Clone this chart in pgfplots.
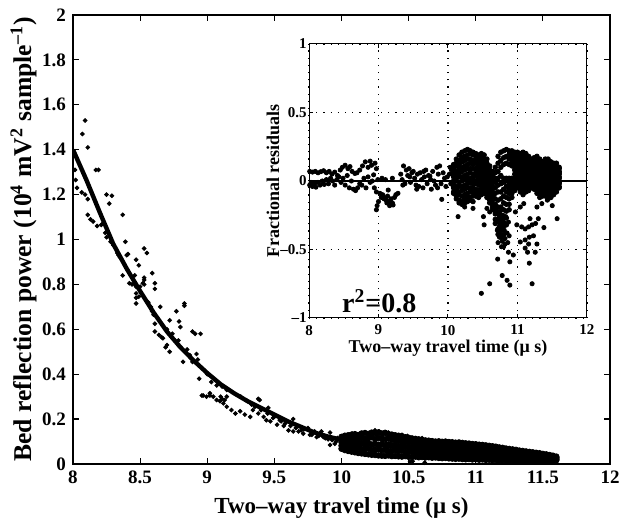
\documentclass[border=0pt]{standalone}
\usepackage{fontspec}
\setmainfont{Liberation Serif}
\usepackage{pgfplots}
\usepackage{pgfplotstable}
\pgfplotsset{compat=1.18}

% main-panel band 10-11.6 us: x then five samples across the band
\pgfplotstableread{
x a b c d e
10.000 0.068 0.082 0.097 0.110 0.121
10.025 0.062 0.079 0.094 0.112 0.126
10.050 0.058 0.076 0.099 0.108 0.128
10.075 0.055 0.073 0.091 0.114 0.131
10.100 0.052 0.071 0.095 0.116 0.133
10.125 0.049 0.074 0.090 0.113 0.129
10.150 0.047 0.068 0.093 0.118 0.136
10.175 0.045 0.066 0.088 0.111 0.138
10.200 0.043 0.069 0.092 0.115 0.134
10.225 0.041 0.064 0.087 0.119 0.140
10.250 0.040 0.062 0.090 0.112 0.137
10.275 0.038 0.065 0.086 0.116 0.141
10.300 0.037 0.061 0.089 0.113 0.136
10.325 0.036 0.063 0.084 0.110 0.139
10.350 0.038 0.060 0.087 0.114 0.133
10.375 0.035 0.058 0.083 0.108 0.131
10.400 0.036 0.061 0.085 0.106 0.128
10.425 0.034 0.057 0.080 0.104 0.126
10.450 0.033 0.059 0.082 0.101 0.124
10.475 0.035 0.055 0.078 0.099 0.119
10.500 0.032 0.054 0.076 0.098 0.117
10.525 0.031 0.056 0.074 0.096 0.114
10.550 0.033 0.052 0.077 0.093 0.112
10.575 0.030 0.053 0.072 0.091 0.110
10.600 0.031 0.050 0.070 0.090 0.108
10.625 0.029 0.051 0.068 0.088 0.105
10.650 0.030 0.048 0.071 0.086 0.104
10.675 0.028 0.049 0.066 0.084 0.102
10.700 0.029 0.047 0.064 0.083 0.100
10.725 0.027 0.046 0.066 0.085 0.101
10.750 0.026 0.044 0.063 0.082 0.099
10.775 0.027 0.045 0.061 0.080 0.100
10.800 0.025 0.043 0.060 0.079 0.098
10.825 0.024 0.041 0.062 0.078 0.097
10.850 0.023 0.042 0.058 0.076 0.095
10.875 0.024 0.040 0.057 0.077 0.096
10.900 0.022 0.039 0.056 0.074 0.094
10.925 0.021 0.038 0.055 0.073 0.092
10.950 0.022 0.037 0.054 0.071 0.091
10.975 0.020 0.036 0.052 0.070 0.089
11.000 0.021 0.035 0.051 0.069 0.088
11.025 0.019 0.034 0.050 0.067 0.086
11.050 0.020 0.033 0.049 0.066 0.085
11.075 0.018 0.032 0.047 0.064 0.083
11.100 0.019 0.031 0.046 0.062 0.081
11.125 0.017 0.030 0.045 0.060 0.079
11.150 0.018 0.030 0.043 0.058 0.077
11.175 0.016 0.029 0.042 0.056 0.074
11.200 0.017 0.028 0.041 0.054 0.072
11.225 0.016 0.027 0.040 0.052 0.069
11.250 0.015 0.027 0.038 0.050 0.067
11.275 0.016 0.026 0.037 0.049 0.065
11.300 0.015 0.025 0.036 0.047 0.063
11.325 0.014 0.025 0.035 0.046 0.060
11.350 0.015 0.024 0.034 0.044 0.058
11.375 0.014 0.023 0.033 0.043 0.056
11.400 0.015 0.023 0.032 0.041 0.054
11.425 0.014 0.022 0.031 0.040 0.052
11.450 0.015 0.022 0.030 0.038 0.050
11.475 0.014 0.021 0.029 0.037 0.048
11.500 0.015 0.021 0.028 0.035 0.045
11.525 0.016 0.021 0.027 0.034 0.043
11.550 0.015 0.020 0.026 0.032 0.040
11.575 0.016 0.021 0.026 0.031 0.037
11.600 0.017 0.021 0.025 0.029 0.033
}\band

% inset: dense residual cloud, x then 12 samples
\pgfplotstableread{
x r1 r2 r3 r4 r5 r6 r7 r8 r9 r10 r11 r12
10.08 -0.09 -0.08 -0.05 -0.04 -0.01 0.00 0.03 0.04 0.06 0.09 0.10 0.12
10.12 -0.13 -0.11 -0.08 -0.06 -0.04 0.00 0.02 0.05 0.07 0.11 0.13 0.16
10.16 -0.16 -0.14 -0.10 -0.08 -0.04 -0.01 0.03 0.06 0.09 0.12 0.15 0.19
10.20 -0.17 -0.15 -0.11 -0.07 -0.04 0.00 0.03 0.07 0.10 0.14 0.17 0.21
10.24 -0.16 -0.13 -0.10 -0.06 -0.03 0.01 0.04 0.08 0.11 0.15 0.18 0.22
10.28 -0.15 -0.12 -0.09 -0.05 -0.02 0.02 0.05 0.09 0.12 0.16 0.19 0.23
10.32 -0.14 -0.12 -0.08 -0.05 -0.01 0.02 0.06 0.09 0.13 0.16 0.20 0.22
10.36 -0.15 -0.11 -0.08 -0.05 -0.02 0.02 0.05 0.09 0.12 0.15 0.19 0.21
10.40 -0.11 -0.09 -0.06 -0.02 0.00 0.04 0.06 0.09 0.13 0.15 0.18 0.20
10.44 -0.12 -0.10 -0.07 -0.03 -0.01 0.02 0.05 0.08 0.11 0.14 0.17 0.19
10.48 -0.10 -0.07 -0.05 -0.02 0.01 0.04 0.07 0.09 0.12 0.14 0.17 0.20
10.52 -0.09 -0.07 -0.05 -0.02 0.01 0.03 0.06 0.08 0.11 0.14 0.16 0.19
10.56 -0.12 -0.10 -0.08 -0.05 -0.02 0.00 0.03 0.05 0.08 0.11 0.13 0.16
10.60 -0.16 -0.14 -0.12 -0.09 -0.07 -0.04 -0.02 0.01 0.03 0.06 0.08 0.11
10.64 -0.21 -0.19 -0.17 -0.14 -0.11 -0.09 -0.06 -0.04 -0.01 0.02 0.04 0.07
10.68 -0.31 -0.28 -0.24 -0.21 -0.17 -0.13 -0.09 -0.05 -0.01 0.02 0.06 0.10
10.72 -0.39 -0.35 -0.29 -0.24 -0.19 -0.14 -0.08 -0.03 0.02 0.07 0.13 0.18
10.76 -0.41 -0.36 -0.31 -0.25 -0.19 -0.13 -0.08 -0.02 0.04 0.10 0.15 0.21
10.80 -0.39 -0.33 -0.27 -0.21 -0.16 -0.11 -0.06 -0.01 0.02 0.12 0.17 0.22
10.84 -0.32 -0.27 -0.22 -0.17 -0.12 -0.08 -0.04 0.00 0.02 0.13 0.18 0.23
10.88 -0.21 -0.17 -0.13 -0.09 -0.06 -0.03 0.00 0.02 0.12 0.16 0.19 0.22
10.92 -0.12 -0.09 -0.06 -0.03 0.00 0.02 0.11 0.13 0.16 0.18 0.20 0.22
10.96 -0.07 -0.04 -0.01 0.02 0.05 0.08 0.10 0.12 0.14 0.16 0.19 0.21
11.00 -0.05 -0.03 0.00 0.02 0.04 0.07 0.09 0.12 0.14 0.16 0.19 0.21
11.04 -0.08 -0.05 -0.03 0.00 0.02 0.05 0.07 0.10 0.12 0.15 0.17 0.20
11.08 -0.10 -0.07 -0.04 -0.02 0.01 0.04 0.07 0.10 0.13 0.15 0.18 0.21
11.12 -0.08 -0.05 -0.03 0.00 0.02 0.05 0.07 0.10 0.12 0.15 0.17 0.20
11.16 -0.07 -0.05 -0.02 0.00 0.02 0.04 0.07 0.09 0.11 0.13 0.16 0.18
11.20 -0.05 -0.03 -0.01 0.01 0.03 0.05 0.06 0.08 0.10 0.12 0.14 0.16
11.24 -0.06 -0.04 -0.02 0.00 0.02 0.05 0.07 0.09 0.11 0.13 0.15 0.17
11.28 -0.09 -0.07 -0.04 -0.02 0.01 0.03 0.06 0.08 0.11 0.13 0.16 0.18
11.32 -0.12 -0.09 -0.07 -0.04 -0.02 0.01 0.03 0.06 0.08 0.11 0.13 0.16
11.36 -0.11 -0.09 -0.06 -0.04 -0.02 0.00 0.03 0.05 0.07 0.09 0.12 0.14
11.40 -0.11 -0.09 -0.06 -0.04 -0.01 0.01 0.04 0.06 0.09 0.11 0.14 0.16
11.44 -0.13 -0.10 -0.08 -0.05 -0.02 0.00 0.03 0.05 0.08 0.11 0.13 0.16
11.48 -0.12 -0.10 -0.07 -0.05 -0.03 0.00 0.02 0.05 0.07 0.09 0.12 0.14
11.52 -0.10 -0.08 -0.06 -0.04 -0.02 0.00 0.03 0.05 0.07 0.09 0.11 0.13
11.56 -0.08 -0.06 -0.04 -0.02 0.00 0.02 0.03 0.05 0.07 0.09 0.11 0.13
11.60 -0.05 -0.04 -0.02 -0.01 0.00 0.02 0.03 0.05 0.06 0.07 0.09 0.10
}\resid

\begin{document}
\begin{tikzpicture}
\useasboundingbox (-36.5pt,-27.5pt) rectangle (277pt,232pt);

\begin{axis}[
    name=main,
    scale only axis,
    width=268.5pt, height=224.5pt,
    xmin=8, xmax=12, ymin=0, ymax=2,
    xtick={8,8.5,9,9.5,10,10.5,11,11.5,12},
    xticklabels={8,8.5,9,9.5,10,10.5,11,11.5,12},
    ytick={0,0.2,0.4,0.6,0.8,1,1.2,1.4,1.6,1.8,2},
    yticklabels={0,0.2,0.4,0.6,0.8,1,1.2,1.4,1.6,1.8,2},
    tick label style={font=\bfseries\fontsize{9.5}{10}\selectfont},
    major tick length=3pt,
    axis line style={line width=0.6pt},
    every tick/.style={black, line width=0.6pt},
    label style={font=\bfseries\fontsize{11.5}{13}\selectfont},
    xlabel={Two–way travel time (μ s)},
    ylabel={Bed reflection power (10\textsuperscript{4} mV\textsuperscript{2} sample\textsuperscript{–1})},
    xlabel style={at={(axis description cs:0.5,0)}, anchor=north, inner sep=0pt, yshift=-16.5pt},
    ylabel style={at={(axis description cs:-0.067,0.5)}, anchor=south, inner sep=0pt,
                  font=\bfseries\fontsize{12.8}{14}\selectfont},
]
% measured reflection power
\addplot[only marks, mark=*, mark size=0.95pt, black] coordinates {
(8.09,1.53) (8.07,1.47) (8.11,1.41) (8.015,1.31) (8.17,1.31) (8.19,1.31)
(8.02,1.265) (8.03,1.23) (8.065,1.21) (8.09,1.20) (8.11,1.18) (8.25,1.20)
(8.29,1.195) (8.27,1.16) (8.11,1.11) (8.13,1.09) (8.15,1.08) (8.18,1.06)
(8.21,1.065) (8.22,1.07) (8.37,1.11) (8.24,1.03) (8.25,1.01) (8.28,0.99)
(8.30,0.975) (8.39,0.99) (8.33,0.94) (8.35,0.92) (8.34,0.93) (8.53,0.96)
(8.55,0.94) (8.41,0.935) (8.47,0.91) (8.49,0.885) (8.37,0.84) (8.59,0.85)
(8.42,0.805) (8.46,0.80) (8.47,0.79) (8.53,0.82) (8.53,0.80) (8.61,0.805)
(8.61,0.78) (8.47,0.76) (8.49,0.745) (8.40,0.93) (8.46,0.84) (8.44,0.80)
(8.50,0.79) (8.52,0.805) (8.53,0.83) (8.47,0.74) (8.47,0.715) (8.65,0.70)
(8.83,0.715) (8.83,0.705) (8.77,0.68) (8.59,0.68) (8.60,0.665) (8.72,0.64)
(8.79,0.635) (8.80,0.61) (8.61,0.625) (8.61,0.59) (8.64,0.575) (8.66,0.565)
(8.67,0.56) (8.89,0.59) (8.91,0.58) (8.95,0.58) (8.735,0.565) (8.76,0.55)
(8.785,0.55) (8.70,0.53) (8.69,0.52) (8.72,0.50) (8.85,0.51) (8.87,0.485)
(8.92,0.49) (8.93,0.465) (8.89,0.455) (8.82,0.455) (8.94,0.38) (9.03,0.365)
(9.07,0.35) (9.145,0.335) (8.96,0.305) (8.995,0.30) (9.02,0.305) (9.10,0.30)
(9.145,0.30) (8.97,0.305) (9.02,0.315) (9.045,0.30) (9.11,0.345) (9.145,0.33)
(9.07,0.285) (9.095,0.28) (9.12,0.27) (9.145,0.255) (9.18,0.24) (9.21,0.225)
(9.245,0.235) (9.28,0.22) (9.32,0.21) (9.11,0.29) (9.13,0.285) (9.38,0.29)
(9.39,0.285) (9.355,0.255) (9.34,0.24) (9.455,0.25) (9.38,0.225) (9.42,0.21)
(9.44,0.195) (9.47,0.19) (9.49,0.205) (9.54,0.195) (9.52,0.175) (9.57,0.17)
(9.605,0.15) (9.64,0.145) (9.64,0.20) (9.68,0.145) (9.715,0.135) (9.75,0.16)
(9.765,0.13) (9.80,0.145) (9.815,0.12) (9.85,0.145) (9.865,0.12) (9.915,0.14)
(9.93,0.107) (9.96,0.10) (9.99,0.107) (10.03,0.107) (10.04,0.09) (9.915,0.085)
(9.95,0.09) (9.25,0.30) (9.30,0.28) (9.33,0.265) (9.40,0.24) (9.45,0.225)
(9.50,0.21) (9.55,0.19) (9.58,0.18) (9.62,0.17) (9.66,0.16) (9.70,0.15)
(9.72,0.155) (9.78,0.13) (9.83,0.125) (9.88,0.115) (9.90,0.11) (9.97,0.115)
(9.00,0.40) (9.05,0.38) (8.56,0.72) (8.58,0.70) (8.70,0.60) (8.74,0.58)
(10.08,0.135) (10.28,0.145) (10.39,0.13) (10.49,0.125) (10.18,0.14) (10.25,0.15)
(10.35,0.14) (10.51,0.01) (10.53,0.012) (10.62,0.006) (10.45,0.13) (10.60,0.115)
};
\pgfplotsinvokeforeach{1,...,5}{
  \addplot[only marks, mark=*, mark size=1.4pt, black] table[x index=0, y index=#1] {\band};
}
% fitted decay curve
\addplot[black, line width=2.2pt] coordinates {
(8.0,1.40) (8.1,1.265) (8.2,1.12) (8.3,0.98) (8.4,0.87) (8.5,0.77)
(8.6,0.675) (8.7,0.59) (8.8,0.52) (8.9,0.46) (9.0,0.405) (9.1,0.355)
(9.2,0.315) (9.3,0.28) (9.4,0.25) (9.5,0.22) (9.6,0.19) (9.7,0.165)
(9.8,0.14) (9.9,0.122) (10.0,0.108) (10.2,0.09) (10.4,0.078) (10.6,0.068)
(10.8,0.058) (11.0,0.05) (11.2,0.043) (11.4,0.037) (11.6,0.032)
};
\end{axis}

\begin{axis}[
    name=inset,
    at={(118pt,73pt)}, anchor=south west,
    scale only axis,
    width=139pt, height=137pt,
    xmin=8, xmax=12, ymin=-1, ymax=1,
    xtick={8,9,10,11,12},
    xticklabels={8,9,10,11,12},
    ytick={-1,-0.5,0,0.5,1},
    yticklabels={–1,–0.5,0,0.5,1},
    grid=major,
    grid style={black, line width=0.6pt, dash pattern=on 0.6pt off 3pt},
    major tick length=2pt,
    axis line style={line width=0.5pt},
    every tick/.style={black, line width=0.5pt},
    axis background/.style={fill=white},
    tick label style={font=\bfseries\fontsize{7.5}{9}\selectfont},
    yticklabel style={inner sep=1pt},
    label style={font=\bfseries\fontsize{9}{10}\selectfont},
    xlabel={Two–way travel time (μ s)},
    ylabel={Fractional residuals},
    xlabel style={at={(axis description cs:0.5,0)}, anchor=north, inner sep=0pt, yshift=-11pt},
    ylabel style={at={(axis description cs:-0.105,0.5)}, anchor=south, inner sep=0pt},
]
\addplot[black, line width=0.6pt] coordinates {(8,0) (12,0)};
\addplot[only marks, mark=*, mark size=1.05pt, black] coordinates {
(8.01,0.07) (8.05,0.065) (8.09,0.07) (8.13,0.06) (8.17,0.068) (8.21,0.075)
(8.25,0.06) (8.29,0.07) (8.33,0.05) (8.37,0.065) (8.41,0.04) (8.45,0.08)
(8.48,0.10) (8.52,0.115) (8.56,0.09) (8.59,0.105) (8.62,0.07) (8.66,0.055)
(8.69,0.06) (8.73,0.08) (8.77,0.11) (8.81,0.14) (8.85,0.10) (8.88,0.145)
(8.90,0.115) (8.93,0.045) (8.95,0.13) (8.97,0.09)
(8.01,-0.03) (8.03,-0.01) (8.05,-0.04) (8.08,-0.02) (8.10,-0.045) (8.13,-0.01)
(8.16,-0.03) (8.19,0.0) (8.22,-0.025) (8.25,0.01) (8.28,-0.02) (8.31,0.02)
(8.34,0.0) (8.37,-0.03) (8.40,0.01) (8.43,0.03) (8.46,-0.01) (8.49,0.02)
(8.52,-0.03) (8.55,0.04) (8.58,-0.05) (8.61,0.0) (8.64,-0.06) (8.67,-0.07)
(8.70,-0.05) (8.73,-0.02) (8.76,-0.03) (8.79,0.02) (8.82,-0.05) (8.85,0.03)
(8.88,-0.01) (8.91,0.0) (8.94,-0.05) (8.97,-0.08) (8.99,0.01)
(8.97,-0.21) (8.98,-0.18) (9.00,-0.15) (9.02,-0.09) (9.04,-0.12) (9.06,-0.10)
(9.08,-0.13) (9.09,-0.125) (9.11,-0.14) (9.13,-0.11) (9.14,-0.066) (9.15,-0.15)
(9.17,-0.15) (9.18,-0.13) (9.20,-0.16) (9.21,-0.175) (9.23,-0.12) (9.25,-0.10)
(9.28,-0.09) (9.12,-0.16) (9.16,-0.18) (9.05,0.02) (9.10,0.01) (9.20,0.02)
(9.32,0.05) (9.34,0.01) (9.36,0.11) (9.38,-0.02) (9.40,0.08) (9.42,0.04)
(9.44,0.09) (9.46,-0.01) (9.48,0.06) (9.50,0.07) (9.52,0.02) (9.54,-0.03)
(9.56,0.05) (9.58,-0.04) (9.60,0.06) (9.62,0.01) (9.64,-0.05) (9.66,0.03)
(9.68,0.08) (9.70,-0.02) (9.72,0.04) (9.74,0.035) (9.76,-0.06) (9.78,0.07)
(9.80,0.0) (9.82,-0.03) (9.84,0.10) (9.86,0.05) (9.88,0.11) (9.90,-0.02)
(9.91,-0.134) (9.93,0.06) (9.95,0.02) (9.97,-0.04) (9.99,0.03) (9.35,-0.03)
(9.45,0.03) (9.55,-0.06) (9.65,0.07) (9.75,0.01) (9.85,-0.05)
(10.02,0.05) (10.04,-0.02) (10.05,0.08) (10.03,0.10)
(10.70,-0.30) (10.71,-0.36) (10.73,-0.27) (10.74,-0.33) (10.74,-0.38) (10.75,-0.22)
(10.77,-0.28) (10.78,-0.34) (10.78,-0.44) (10.79,-0.25) (10.80,-0.30) (10.81,-0.36)
(10.82,-0.42) (10.83,-0.26) (10.85,-0.38) (10.86,-0.45) (10.87,-0.30) (10.74,-0.41)
(10.70,-0.22) (10.72,-0.45) (10.82,-0.46) (10.77,-0.48) (10.88,-0.40)
(10.145,-0.26) (10.51,-0.26) (10.52,-0.32) (10.48,-0.82) (10.60,-0.75) (10.78,-0.69)
(10.85,-0.725) (10.89,-0.76) (10.715,-0.57) (10.89,-0.59) (11.17,-0.60) (11.21,-0.75)
(10.80,-0.48) (10.87,-0.52) (10.94,-0.54) (11.04,-0.445) (11.11,-0.43) (11.16,-0.46)
(11.17,-0.41) (11.23,-0.40) (11.28,-0.46) (11.11,-0.49) (11.145,-0.52) (11.255,-0.52)
(10.99,-0.32) (11.06,-0.335) (11.11,-0.35) (11.16,-0.335) (11.21,-0.32) (11.26,-0.31)
(11.30,-0.275) (11.38,-0.34) (11.57,-0.275) (10.97,-0.226) (11.04,-0.19) (11.09,-0.165)
(11.18,-0.275) (11.28,-0.19) (11.35,-0.165) (11.43,-0.14) (11.50,-0.18) (10.36,-0.20)
(10.24,-0.19) (10.56,-0.20) (10.60,-0.226)
};
\pgfplotsinvokeforeach{1,...,12}{
  \addplot[only marks, mark=*, mark size=1.15pt, black] table[x index=0, y index=#1] {\resid};
}
\node[anchor=base, font=\bfseries\fontsize{14}{16}\selectfont] at (axis cs:9.01,-0.96) {r\textsuperscript{2}=0.8};
\end{axis}
\end{tikzpicture}
\end{document}
